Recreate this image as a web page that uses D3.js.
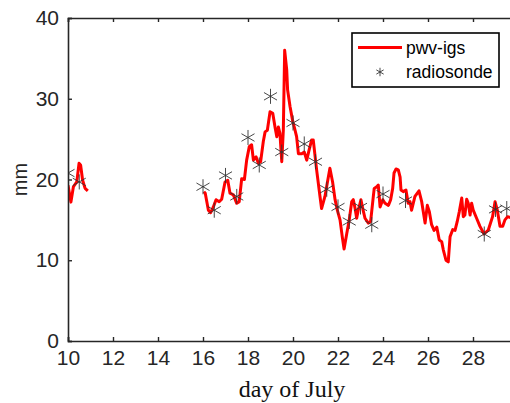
<!DOCTYPE html>
<html>
<head>
<meta charset="utf-8">
<script src="https://cdn.jsdelivr.net/npm/d3@7"></script>
<style>
body { margin: 0; background: #fff; }
svg { display: block; }
</style>
</head>
<body>
<svg id="chart"></svg>
<script>
var width = 510;
var height = 403;

// pwv-igs series (day of July, mm); null marks the data gap
var pwvDays = [10.0, 10.13, 10.24, 10.39, 10.49, 10.56, 10.65, 10.76, 10.88, null,
  16.04, 16.1, 16.24, 16.34, 16.46, 16.58, 16.72, 16.83, 16.98, 17.1, 17.2, 17.35, 17.5, 17.61,
  17.72, 17.84, 17.94, 18.06, 18.16, 18.24, 18.36, 18.46, 18.56, 18.68, 18.76, 18.86, 18.98,
  19.1, 19.2, 19.28, 19.35, 19.42, 19.5, 19.57, 19.63, 19.72, 19.76, 19.87, 19.99, 20.09,
  20.16, 20.24, 20.39, 20.5, 20.61, 20.72, 20.83, 20.9, 21.05, 21.2, 21.27, 21.42, 21.52,
  21.64, 21.76, 21.87, 21.97, 22.09, 22.19, 22.27, 22.39, 22.5, 22.61, 22.68, 22.76, 22.83,
  22.9, 22.98, 23.02, 23.1, 23.2, 23.35, 23.45, 23.57, 23.61, 23.72, 23.79, 23.87, 23.99,
  24.09, 24.24, 24.34, 24.43, 24.49, 24.58, 24.68, 24.76, 24.8, 24.9, 25.02, 25.12, 25.2,
  25.27, 25.42, 25.6, 25.72, 25.87, 25.97, 26.06, 26.16, 26.27, 26.39, 26.5, 26.61, 26.68,
  26.8, 26.9, 26.98, 27.1, 27.2, 27.3, 27.39, 27.5, 27.57, 27.64, 27.72, 27.79, 27.87, 27.94,
  28.01, 28.16, 28.31, 28.49, 28.68, 28.87, 28.98, 29.08, 29.2, 29.32, 29.42, 29.54, 29.64, 29.8];
var pwvValues = [19.3, 17.2, 19.1, 19.7, 22.0, 21.8, 19.9, 18.9, 18.6, null,
  18.5, 18.3, 16.2, 15.9, 16.6, 17.5, 17.25, 17.55, 19.7, 19.9, 18.3, 18.1, 17.05, 17.25,
  20.1, 20.0, 22.4, 24.1, 24.3, 22.4, 22.8, 22.0, 22.2, 24.7, 25.9, 26.1, 28.4,
  28.2, 26.5, 25.3, 26.5, 25.7, 22.2, 26.1, 36.0, 33.6, 31.1, 29.0, 27.2, 26.1,
  25.3, 23.2, 23.2, 23.4, 22.4, 23.7, 24.9, 24.9, 21.2, 17.9, 16.4, 17.9, 19.5,
  21.4, 19.7, 17.5, 16.2, 15.0, 12.9, 11.4, 13.3, 15.0, 17.25, 17.5, 16.4, 15.2,
  16.2, 17.05, 17.5, 16.4, 15.2, 14.6, 14.8, 17.9, 18.9, 19.1, 19.3, 16.6, 17.5,
  17.05, 16.8, 17.5, 18.9, 20.8, 21.3, 21.2, 20.3, 18.7, 18.5, 18.7, 17.05, 17.25,
  16.2, 17.9, 18.6, 17.25, 14.6, 16.8, 16.0, 14.4, 13.7, 14.1, 12.5, 12.3, 11.3,
  10.0, 9.8, 12.9, 13.8, 13.7, 14.8, 16.0, 17.7, 15.4, 15.6, 17.55, 17.05, 15.6, 17.05,
  16.2, 15.2, 14.2, 13.25, 13.75, 15.4, 17.25, 16.2, 14.2, 14.2, 15.0, 15.4, 15.3, 15.5];

// radiosonde observations
var sondeDays = [10.0, 10.5, 16.0, 16.5, 17.0, 17.5, 18.0, 18.5, 19.0, 19.5, 20.0, 20.5, 21.0,
  21.5, 22.0, 22.5, 23.0, 23.5, 24.0, 25.0, 28.5, 29.0, 29.5];
var sondeValues = [20.8, 19.7, 19.1, 16.2, 20.5, 17.9, 25.2, 21.8, 30.3, 23.4, 27.0, 24.4, 22.2,
  18.8, 16.6, 14.8, 16.6, 14.4, 18.2, 17.4, 13.25, 16.3, 16.4];

var xTicks = [10, 12, 14, 16, 18, 20, 22, 24, 26, 28];
var yTicks = [0, 10, 20, 30, 40];

var mLeft = 68, mTop = 18, mRight = 518, mBottom = 341;
var axisColor = '#262626';

var xScale = d3.scaleLinear().domain([10, 30]).range([mLeft, mRight]);
var yScale = d3.scaleLinear().domain([0, 40]).range([mBottom, mTop]);

var svg = d3.select('#chart')
    .attr('width', width)
    .attr('height', height);

svg.append('clipPath')
    .attr('id', 'plotClip')
  .append('rect')
    .attr('x', mLeft)
    .attr('y', mTop)
    .attr('width', mRight - mLeft)
    .attr('height', mBottom - mTop);

var pwv = pwvDays.map((d, i) => ({day: d, v: pwvValues[i]}));

var line = d3.line()
    .defined(d => d.day !== null)
    .x(d => xScale(d.day))
    .y(d => yScale(d.v));

var plot = svg.append('g').attr('clip-path', 'url(#plotClip)');

plot.append('path')
    .datum(pwv)
    .attr('d', line)
    .attr('fill', 'none')
    .attr('stroke', '#ff0000')
    .attr('stroke-width', 3)
    .attr('stroke-linejoin', 'round');

var star = d3.symbol().type(d3.symbolAsterisk).size(160);

plot.selectAll('.sonde')
    .data(sondeDays)
    .enter()
  .append('path')
    .attr('class', 'sonde')
    .attr('transform', (d, i) => 'translate(' + xScale(d) + ',' + yScale(sondeValues[i]) + ')')
    .attr('d', star)
    .attr('fill', 'none')
    .attr('stroke', '#333')
    .attr('stroke-width', 0.9);

// axes (MATLAB style: inward ticks, box on)
var xAxis = d3.axisBottom(xScale).tickValues(xTicks).tickSize(-4).tickPadding(9);
var xAxisTop = d3.axisTop(xScale).tickValues(xTicks).tickSize(-4).tickFormat('');
var yAxis = d3.axisLeft(yScale).tickValues(yTicks).tickSize(-4).tickPadding(9);

var gx = svg.append('g')
    .attr('transform', 'translate(0,' + mBottom + ')')
    .call(xAxis);
var gxTop = svg.append('g')
    .attr('transform', 'translate(0,' + mTop + ')')
    .call(xAxisTop);
var gy = svg.append('g')
    .attr('transform', 'translate(' + mLeft + ',0)')
    .call(yAxis);

[gx, gxTop, gy].forEach(g => {
  g.select('.domain').attr('stroke', axisColor).attr('stroke-width', 1.6);
  g.selectAll('.tick line').attr('stroke', axisColor).attr('stroke-width', 1.4);
  g.selectAll('.tick text')
      .attr('fill', axisColor)
      .style('font-family', '"Liberation Sans", Arial, sans-serif')
      .style('font-size', '21px');
});

svg.append('text')
    .attr('transform', 'rotate(-90)')
    .attr('x', -(mTop + mBottom) / 2)
    .attr('y', 27)
    .style('text-anchor', 'middle')
    .style('font-family', '"Liberation Sans", Arial, sans-serif')
    .style('font-size', '20px')
    .attr('fill', axisColor)
    .text('mm');

svg.append('text')
    .attr('x', (mLeft + mRight) / 2 - 1)
    .attr('y', 397)
    .style('text-anchor', 'middle')
    .style('font-family', '"Liberation Serif", "Times New Roman", serif')
    .style('font-size', '24px')
    .attr('fill', '#111')
    .text('day of July');

// legend
var legend = svg.append('g');
legend.append('rect')
    .attr('x', 352)
    .attr('y', 33)
    .attr('width', 147)
    .attr('height', 54)
    .attr('fill', '#fff')
    .attr('stroke', '#000')
    .attr('stroke-width', 1.6);
legend.append('line')
    .attr('x1', 358).attr('x2', 402)
    .attr('y1', 47.5).attr('y2', 47.5)
    .attr('stroke', '#ff0000')
    .attr('stroke-width', 3);
legend.append('path')
    .attr('transform', 'translate(380,72)')
    .attr('d', d3.symbol().type(d3.symbolAsterisk).size(50))
    .attr('fill', 'none')
    .attr('stroke', '#333')
    .attr('stroke-width', 0.9);
legend.selectAll('.ltext')
    .data(['pwv-igs', 'radiosonde'])
    .enter()
  .append('text')
    .attr('x', 406)
    .attr('y', (d, i) => 54 + i * 24)
    .style('font-family', '"Liberation Sans", Arial, sans-serif')
    .style('font-size', '17.5px')
    .attr('fill', '#000')
    .text(d => d);
</script>
</body>
</html>
